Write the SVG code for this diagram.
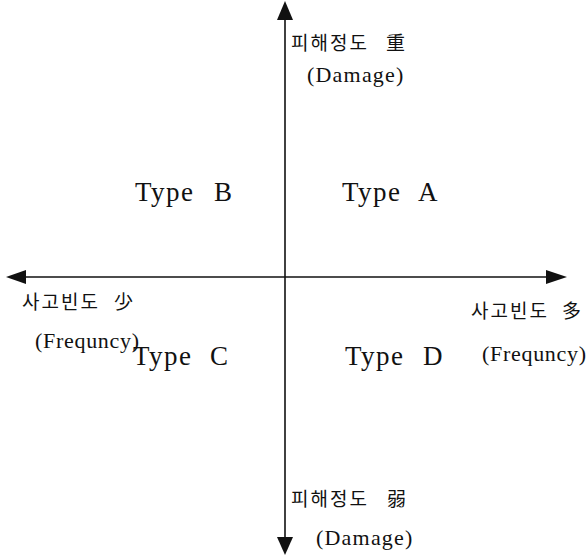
<svg xmlns="http://www.w3.org/2000/svg" width="586" height="557" viewBox="0 0 586 557">
<style>
.t{font-family:"Liberation Serif","Noto Sans CJK KR",serif;fill:#111}
.k{font-size:19px;letter-spacing:2px}
.d{font-size:22px;letter-spacing:1.2px}
.f{font-size:22px;letter-spacing:0.7px}
.ty{font-size:27px;letter-spacing:1.5px}
.ax{stroke:#111;stroke-width:1.6;fill:none}
</style>
<rect width="586" height="557" fill="#fff"/>
<g id="connectors">
<line class="ax" x1="285" y1="277" x2="285" y2="20"/>
<polygon points="285,1 277,20 293,20" fill="#111"/>
<line class="ax" x1="285" y1="277" x2="285" y2="537"/>
<polygon points="285,555 277,537 293,537" fill="#111"/>
<line class="ax" x1="285" y1="277" x2="26" y2="277"/>
<polygon points="6,277 26,270 26,284" fill="#111"/>
<line class="ax" x1="285" y1="277" x2="546" y2="277"/>
<polygon points="567,277 546,270 546,284" fill="#111"/>
</g>
<g id="label-top">
<text class="t k" x="291" y="50">피해정도<tspan x="386">重</tspan></text>
<text class="t d" x="307" y="82">(Damage)</text>
</g>
<g id="label-bottom">
<text class="t k" x="291" y="506">피해정도<tspan x="387">弱</tspan></text>
<text class="t d" x="316" y="545">(Damage)</text>
</g>
<g id="label-left">
<text class="t k" x="22" y="309">사고빈도<tspan x="114">少</tspan></text>
<text class="t f" x="35" y="348">(Frequncy)</text>
</g>
<g id="label-right">
<text class="t k" x="471" y="318">사고빈도<tspan x="562">多</tspan></text>
<text class="t f" x="482" y="361">(Frequncy)</text>
</g>
<g id="typeA"><text class="t ty" x="342" y="201">Type<tspan x="418">A</tspan></text></g>
<g id="typeB"><text class="t ty" x="135" y="201">Type<tspan x="214">B</tspan></text></g>
<g id="typeC"><text class="t ty" x="133" y="365">Type<tspan x="210">C</tspan></text></g>
<g id="typeD"><text class="t ty" x="345" y="365">Type<tspan x="423">D</tspan></text></g>
</svg>
